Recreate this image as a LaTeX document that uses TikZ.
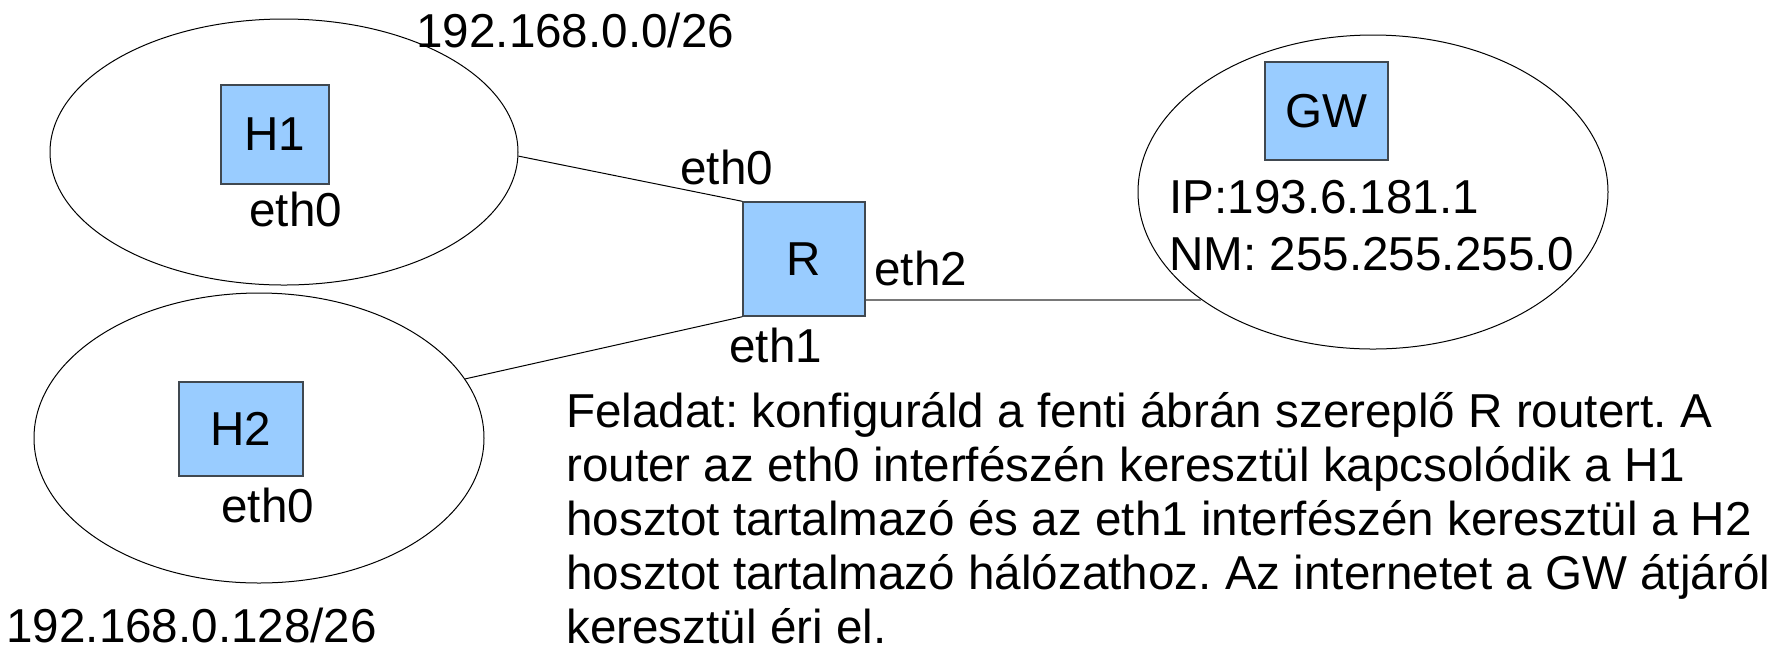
\documentclass[tikz,border=0pt]{standalone}
\usepackage{fontspec}
\setmainfont{Liberation Sans}
\usetikzlibrary{shapes.geometric,positioning}
\frenchspacing

\tikzset{
	net/.style={draw, ellipse, inner sep=0pt, line width=0.5pt},
	hostbox/.style={draw={rgb,255:red,64;green,72;blue,80}, fill={rgb,255:red,153;green,204;blue,255}, line width=0.7pt, inner sep=0pt},
	lbl/.style={inner sep=0pt, anchor=base west},
	wire/.style={line width=0.5pt},
	uplink/.style={line width=1pt, draw={rgb,255:red,120;green,120;blue,120}},
}

\begin{document}
\begin{tikzpicture}[x=0.5pt, y=-0.5pt, font=\fontsize{23.8}{27}\selectfont]
	\useasboundingbox (0,0) rectangle (1784,661);
	\node[net, minimum width=234pt, minimum height=133pt] (n1) at (284,152) {};
	\node[net, minimum width=225pt, minimum height=145pt] (n2) at (259,438) {};
	\node[net, minimum width=235pt, minimum height=157pt] (n3) at (1373,192) {};
	\node[hostbox, minimum width=54pt, minimum height=49.5pt] (h1) at (275,134.5) {H1};
	\node[hostbox, minimum width=62pt, minimum height=47pt] (h2) at (241,429) {H2};
	\node[hostbox, minimum width=61pt, minimum height=57pt] (r) at (804,259) {R};
	\node[hostbox, minimum width=61.5pt, minimum height=49pt] (gw) at (1326.5,111) {GW};
	\node[lbl] (a0) at (416,47) {192.168.0.0/26};
	\node[lbl] (a1) at (6,642) {192.168.0.128/26};
	\node[lbl] (h1e0) at (249,226) {eth0};
	\node[lbl] (h2e0) at (221,522) {eth0};
	\node[lbl] (re0) at (680,184) {eth0};
	\node[lbl] (re1) at (729,362) {eth1};
	\node[lbl] (re2) at (874,285) {eth2};
	\node[lbl, align=left, font=\fontsize{23.8}{28.5}\selectfont] (gwip) at (1169,270) {IP:193.6.181.1\\NM: 255.255.255.0};
	\node[lbl, align=left] (task) at (566,643) {Feladat: konfiguráld a fenti ábrán szereplő R routert. A\\router az eth0 interfészén keresztül kapcsolódik a H1\\hosztot tartalmazó és az eth1 interfészén keresztül a H2\\hosztot tartalmazó hálózathoz. Az internetet a GW átjáról\\keresztül éri el.};
	\draw[wire] (n1.-1) -- (r.north west);
	\draw[wire] (r.south west) -- (n2.16);
	\draw[uplink] (r.east |- n3.212) -- (n3.212);
\end{tikzpicture}
\end{document}
